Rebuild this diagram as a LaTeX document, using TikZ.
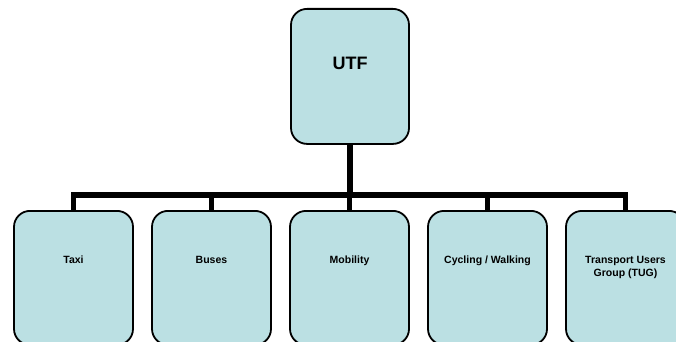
\documentclass[tikz,border=0pt]{standalone}
\usepackage{fontspec}
\setmainfont{Liberation Sans}
\definecolor{boxfill}{RGB}{187,224,227}

\tikzset{
    unit/.style={draw, line width=1.8pt, fill=boxfill, rounded corners=16pt,
        minimum width=119pt, minimum height=134pt, anchor=north, inner sep=0pt},
    link/.style={line width=5.5pt, line join=miter},
    caption/.style={anchor=north, inner sep=0pt, align=center, font=\bfseries}
}

\begin{document}
\begin{tikzpicture}[x=1pt, y=-1pt]
    \useasboundingbox (0,0) rectangle (676,342);

    \node[unit, minimum width=118pt, minimum height=135pt,
        label={[caption, yshift=-49pt, font=\fontsize{18}{20}\selectfont\bfseries]north:UTF}]
        (utf) at (350,8) {};

    \foreach \name/\pos/\text in {taxi/0/Taxi, buses/1/Buses, mobility/2/Mobility,
            cycling/3/{Cycling / Walking}, tug/4/{Transport Users\\Group (TUG)}} {
        \node[unit, label={[caption, yshift=-46pt,
            font=\fontsize{10.5}{13}\selectfont\bfseries]north:{\text}}]
            (\name) at ({73.5 + \pos * 138},210) {};
    }

    \coordinate (fork) at (utf.south |- 0,195);
    \draw[link] (utf.south) -- (fork);
    \draw[link] (taxi.north) |- (fork) -| (tug.north);
    \foreach \name in {buses, mobility, cycling}
        \draw[link] (\name.north) -- (\name.north |- fork);
\end{tikzpicture}
\end{document}
